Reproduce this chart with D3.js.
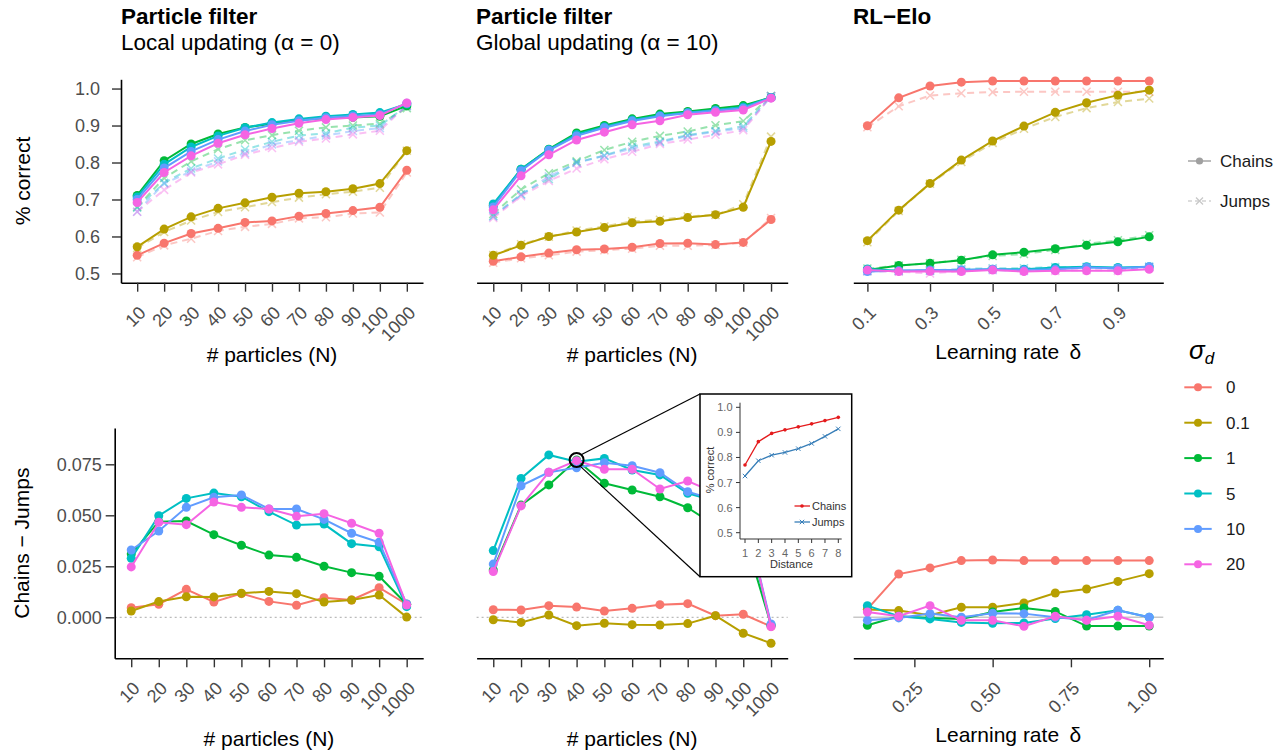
<!DOCTYPE html>
<html><head><meta charset="utf-8">
<script src="https://cdn.jsdelivr.net/npm/d3@7"></script>
<style>
body{margin:0;background:#fff;}
svg text{font-family:"Liberation Sans",Arial,Helvetica,sans-serif;}
</style></head><body>
<svg id="chart" width="1283" height="752"></svg>
<script>
// ---------- data ----------
const particles = ["10","20","30","40","50","60","70","80","90","100","1000"];
const learningRates = [0.1,0.2,0.3,0.4,0.5,0.6,0.7,0.8,0.9,1.0];
const sigmaLevels = ["0","0.1","1","5","10","20"];
const sigmaColors = ["#F8766D","#B79F00","#00BA38","#00BFC4","#619CFF","#F564E3"];
const correctTicks = [0.5,0.6,0.7,0.8,0.9,1.0];
const diffTicks = [0,0.025,0.05,0.075];
const rateTicksTop = [0.1,0.3,0.5,0.7,0.9];
const rateTicksBottom = [0.25,0.5,0.75,1.0];

const localChains = [
  [0.549,0.582,0.608,0.622,0.638,0.642,0.655,0.662,0.670,0.679,0.779],
  [0.572,0.620,0.653,0.676,0.691,0.706,0.717,0.721,0.729,0.743,0.832],
  [0.711,0.805,0.850,0.877,0.895,0.905,0.915,0.920,0.922,0.925,0.953],
  [0.707,0.795,0.842,0.872,0.894,0.908,0.918,0.925,0.930,0.935,0.958],
  [0.700,0.785,0.830,0.862,0.885,0.902,0.913,0.921,0.926,0.930,0.960],
  [0.692,0.773,0.818,0.852,0.875,0.892,0.906,0.916,0.922,0.927,0.961]];
const localJumps = [
  [0.544,0.576,0.594,0.615,0.626,0.634,0.649,0.652,0.662,0.665,0.773],
  [0.569,0.612,0.643,0.666,0.679,0.693,0.705,0.714,0.721,0.732,0.832],
  [0.680,0.758,0.803,0.836,0.860,0.874,0.886,0.895,0.900,0.905,0.947],
  [0.678,0.745,0.784,0.811,0.835,0.856,0.873,0.879,0.894,0.900,0.953],
  [0.667,0.743,0.776,0.803,0.825,0.849,0.860,0.873,0.885,0.893,0.953],
  [0.667,0.726,0.773,0.795,0.821,0.839,0.856,0.865,0.876,0.886,0.955]];
const globalChains = [
  [0.533,0.545,0.555,0.564,0.566,0.571,0.581,0.582,0.578,0.584,0.646],
  [0.549,0.576,0.600,0.612,0.624,0.637,0.641,0.651,0.659,0.679,0.857],
  [0.684,0.782,0.836,0.880,0.900,0.918,0.931,0.938,0.946,0.954,0.976],
  [0.688,0.782,0.835,0.876,0.897,0.915,0.927,0.935,0.942,0.950,0.976],
  [0.680,0.778,0.833,0.872,0.894,0.912,0.925,0.934,0.940,0.947,0.975],
  [0.672,0.764,0.821,0.861,0.882,0.902,0.913,0.929,0.936,0.942,0.974]];
const globalJumps = [
  [0.529,0.541,0.549,0.559,0.563,0.567,0.575,0.575,0.577,0.583,0.650],
  [0.550,0.579,0.599,0.616,0.627,0.641,0.645,0.654,0.658,0.687,0.870],
  [0.661,0.727,0.771,0.803,0.834,0.856,0.872,0.884,0.901,0.912,0.980],
  [0.655,0.714,0.755,0.800,0.819,0.843,0.857,0.874,0.885,0.898,0.980],
  [0.654,0.713,0.762,0.799,0.818,0.838,0.854,0.872,0.883,0.893,0.978],
  [0.650,0.709,0.750,0.784,0.809,0.829,0.850,0.862,0.875,0.887,0.979]];
const eloChains = [
  [0.883,0.956,0.987,0.997,1.000,1.000,1.000,1.000,1.000,1.000],
  [0.582,0.662,0.732,0.793,0.843,0.882,0.918,0.943,0.963,0.976],
  [0.505,0.517,0.523,0.531,0.545,0.552,0.561,0.570,0.579,0.592],
  [0.508,0.503,0.503,0.505,0.507,0.507,0.512,0.514,0.512,0.514],
  [0.501,0.503,0.505,0.505,0.507,0.505,0.507,0.512,0.510,0.514],
  [0.505,0.501,0.502,0.501,0.505,0.501,0.503,0.503,0.503,0.507]];
const eloJumps = [
  [0.879,0.934,0.962,0.968,0.971,0.972,0.972,0.972,0.972,0.972],
  [0.578,0.660,0.731,0.788,0.838,0.875,0.906,0.929,0.945,0.954],
  [0.509,0.517,0.523,0.532,0.542,0.547,0.558,0.574,0.583,0.596],
  [0.502,0.503,0.504,0.508,0.510,0.510,0.513,0.513,0.509,0.514],
  [0.503,0.503,0.503,0.505,0.505,0.503,0.507,0.513,0.507,0.514],
  [0.502,0.501,0.496,0.503,0.507,0.505,0.503,0.505,0.503,0.511]];
const localDiff = [
  [0.0047,0.0064,0.0137,0.0075,0.0116,0.0078,0.0059,0.0096,0.0085,0.0145,0.0064],
  [0.0031,0.0077,0.0101,0.0100,0.0118,0.0127,0.0116,0.0075,0.0085,0.0109,0.0001],
  [0.0310,0.0469,0.0472,0.0405,0.0353,0.0305,0.0294,0.0250,0.0219,0.0201,0.0064],
  [0.0289,0.0498,0.0583,0.0609,0.0591,0.0518,0.0452,0.0457,0.0361,0.0346,0.0052],
  [0.0330,0.0423,0.0539,0.0588,0.0600,0.0531,0.0531,0.0480,0.0412,0.0368,0.0065],
  [0.0247,0.0466,0.0454,0.0565,0.0539,0.0531,0.0495,0.0508,0.0461,0.0412,0.0060]];
const globalDiff = [
  [0.0037,0.0036,0.0057,0.0050,0.0031,0.0044,0.0062,0.0067,0.0008,0.0015,-0.0045],
  [-0.0012,-0.0025,0.0011,-0.0041,-0.0029,-0.0036,-0.0038,-0.0031,0.0008,-0.0078,-0.0127],
  [0.0232,0.0550,0.0649,0.0771,0.0657,0.0624,0.0591,0.0537,0.0450,0.0420,-0.0038],
  [0.0327,0.0681,0.0796,0.0763,0.0779,0.0722,0.0698,0.0608,0.0570,0.0520,-0.0040],
  [0.0261,0.0645,0.0711,0.0733,0.0758,0.0743,0.0709,0.0616,0.0575,0.0540,-0.0033],
  [0.0224,0.0546,0.0711,0.0768,0.0726,0.0726,0.0629,0.0668,0.0610,0.0550,-0.0046]];
const eloDiff = [
  [0.0040,0.0212,0.0242,0.0278,0.0281,0.0278,0.0278,0.0278,0.0278,0.0278],
  [0.0038,0.0033,0.0010,0.0049,0.0049,0.0070,0.0119,0.0139,0.0176,0.0214],
  [-0.0039,0.0005,-0.0003,-0.0008,0.0026,0.0046,0.0029,-0.0043,-0.0043,-0.0043],
  [0.0057,0.0005,-0.0008,-0.0025,-0.0029,-0.0028,-0.0006,0.0013,0.0034,0.0000],
  [-0.0015,-0.0003,0.0018,0.0000,0.0020,0.0018,0.0000,-0.0013,0.0034,0.0000],
  [0.0026,0.0005,0.0057,-0.0015,-0.0015,-0.0044,0.0005,-0.0015,0.0005,-0.0039]];

const insetDistance = [1,2,3,4,5,6,7,8];
const insetChains = [0.770,0.863,0.896,0.910,0.922,0.934,0.947,0.960];
const insetJumps = [0.726,0.787,0.809,0.820,0.835,0.856,0.884,0.914];
const insetYTicks = [0.5,0.6,0.7,0.8,0.9,1.0];

// ---------- drawing ----------
const svg = d3.select("#chart");
const TICKCOL = "#4d4d4d";

function styleAxis(a){
  a.select(".domain").attr("stroke","#000").attr("stroke-width",1.6);
  a.selectAll(".tick line").attr("stroke","#333").attr("stroke-width",1.4);
  a.selectAll(".tick text").attr("fill",TICKCOL).attr("font-size",18)
    .attr("font-family",'"Liberation Sans",Arial,sans-serif');
}
function xAxis(scale, y, tickValues, fmt){
  const ax = d3.axisBottom(scale).tickSize(9).tickSizeOuter(0);
  if (tickValues) ax.tickValues(tickValues);
  if (fmt) ax.tickFormat(fmt);
  const a = svg.append("g").attr("transform",`translate(0,${y})`).call(ax);
  styleAxis(a);
  a.selectAll(".tick text").attr("x",0).attr("y",0).attr("dy","0.72em")
    .attr("text-anchor","end").attr("transform","translate(0,22) rotate(-45)");
}
function yAxis(scale, x, tickValues, fmt, pad){
  const ax = d3.axisLeft(scale).tickSize(9).tickPadding(pad).tickSizeOuter(0)
    .tickValues(tickValues).tickFormat(fmt);
  const a = svg.append("g").attr("transform",`translate(${x},0)`).call(ax);
  styleAxis(a);
}
function drawChains(xs, ys, xv, vals, color, r){
  const g = svg.append("g");
  const line = d3.line().x((d,i)=>xs(xv[i])).y(d=>ys(d));
  g.append("path").attr("d",line(vals)).attr("fill","none").attr("stroke",color).attr("stroke-width",2);
  g.selectAll(null).data(vals).join("circle")
    .attr("cx",(d,i)=>xs(xv[i])).attr("cy",d=>ys(d)).attr("r",r).attr("fill",color);
}
function drawJumps(xs, ys, xv, vals, color){
  const g = svg.append("g").attr("opacity",0.4);
  const line = d3.line().x((d,i)=>xs(xv[i])).y(d=>ys(d));
  g.append("path").attr("d",line(vals)).attr("fill","none").attr("stroke",color)
    .attr("stroke-width",2).attr("stroke-dasharray","7,5");
  g.selectAll(null).data(vals).join("path")
    .attr("d","M-4,-4L4,4M-4,4L4,-4")
    .attr("transform",(d,i)=>`translate(${xs(xv[i])},${ys(d)})`)
    .attr("stroke",color).attr("stroke-width",1.5).attr("fill","none");
}
function text(x,y,str,opt={}){
  const t = svg.append("text").attr("x",x).attr("y",y).text(str)
    .attr("font-size",opt.size||21).attr("fill",opt.fill||"#000");
  if (opt.weight) t.attr("font-weight",opt.weight);
  if (opt.anchor) t.attr("text-anchor",opt.anchor);
  if (opt.rotate) t.attr("transform",`rotate(${opt.rotate},${x},${y})`);
  return t;
}

// geometry of panels
const topY0 = 282.7, topY1 = 79.3, botY0 = 658.3, botY1 = 428;
const colA = [121, 423], colAb = [114.7, 423.2], colB = [476.6, 787.7], colC = [853.3, 1163.3];

const yCorrect = d3.scaleLinear().domain([0.475,1.025]).range([topY0, topY1]);
const yElo = d3.scaleLinear().domain([0.472,1.0045]).range([topY0, topY1]);
const yDiff = d3.scaleLinear().domain([-0.0201,0.0928]).range([botY0, botY1]);

const xLocal = d3.scalePoint().domain(particles).range(colA).padding(0.6);
const xGlobal = d3.scalePoint().domain(particles).range(colB).padding(0.6);
const xEloTop = d3.scaleLinear().domain([0.055,1.045]).range(colC);
const xLocalB = d3.scalePoint().domain(particles).range(colAb).padding(0.6);
const xGlobalB = d3.scalePoint().domain(particles).range(colB).padding(0.6);
const xEloBot = d3.scaleLinear().domain([0.055,1.045]).range(colC);

// zero lines (bottom)
[[colAb, "2,3", "#aaa", 1],[colB, "2,3","#aaa",1],[colC, null, "#c8c8c8", 1.6]].forEach(([c,da,col,w])=>{
  const l = svg.append("line").attr("x1",c[0]).attr("x2",c[1]).attr("y1",yDiff(0)).attr("y2",yDiff(0))
    .attr("stroke",col).attr("stroke-width",w);
  if (da) l.attr("stroke-dasharray",da);
});

// axes
xAxis(xLocal, topY0);
yAxis(yCorrect, colA[0], correctTicks, d3.format(".1f"), 12);
xAxis(xGlobal, topY0);
xAxis(xEloTop, topY0, rateTicksTop, d3.format(".1f"));
xAxis(xLocalB, botY0);
yAxis(yDiff, colAb[0], diffTicks, d3.format(".3f"), 4);
xAxis(xGlobalB, botY0);
xAxis(xEloBot, botY0, rateTicksBottom, d3.format(".2f"));

// series top row
[[xLocal, yCorrect, particles, localJumps, localChains],
 [xGlobal, yCorrect, particles, globalJumps, globalChains],
 [xEloTop, yElo, learningRates, eloJumps, eloChains]].forEach(([xs,ys,xv,J,C])=>{
  J.forEach((v,i)=>drawJumps(xs,ys,xv,v,sigmaColors[i]));
  C.forEach((v,i)=>drawChains(xs,ys,xv,v,sigmaColors[i],4.5));
});
// bottom row
[[xLocalB, particles, localDiff],[xGlobalB, particles, globalDiff],[xEloBot, learningRates, eloDiff]]
 .forEach(([xs,xv,D])=> D.forEach((v,i)=>drawChains(xs,yDiff,xv,v,sigmaColors[i],4.5)));

// titles
text(121, 23.5, "Particle filter", {size:22.5, weight:"bold"});
text(121, 49.5, "Local updating (α = 0)", {size:22.5});
text(476, 23.5, "Particle filter", {size:22.5, weight:"bold"});
text(476, 49.5, "Global updating (α = 10)", {size:22.5});
text(853, 23.5, "RL\u2212Elo", {size:22.5, weight:"bold"});

// axis titles
text((colA[0]+colA[1])/2, 361.5, "# particles (N)", {anchor:"middle"});
text((colB[0]+colB[1])/2, 361.5, "# particles (N)", {anchor:"middle"});
text((colC[0]+colC[1])/2, 359, "Learning rate\u2002δ", {anchor:"middle"});
text((colAb[0]+colAb[1])/2, 746, "# particles (N)", {anchor:"middle"});
text((colB[0]+colB[1])/2, 746, "# particles (N)", {anchor:"middle"});
text((colC[0]+colC[1])/2, 742, "Learning rate\u2002δ", {anchor:"middle"});
text(30, (topY0+topY1)/2, "% correct", {anchor:"middle", rotate:-90});
text(29, (botY0+botY1)/2, "Chains \u2212 Jumps", {anchor:"middle", rotate:-90});

// legend: Chains / Jumps
{
  const lg = svg.append("g");
  lg.append("line").attr("x1",1188).attr("x2",1211).attr("y1",161).attr("y2",161).attr("stroke","#bbb").attr("stroke-width",2);
  lg.append("circle").attr("cx",1199.5).attr("cy",161).attr("r",3.6).attr("fill","#a0a0a0");
  lg.append("line").attr("x1",1188).attr("x2",1211).attr("y1",201).attr("y2",201).attr("stroke","#ddd").attr("stroke-width",2).attr("stroke-dasharray","4,3");
  lg.append("path").attr("d","M-3.5,-3.5L3.5,3.5M-3.5,3.5L3.5,-3.5").attr("transform","translate(1199.5,201)").attr("stroke","#c8c8c8").attr("stroke-width",1.3);
  text(1220, 167, "Chains", {size:17, fill:"#1a1a1a"});
  text(1220, 207, "Jumps", {size:17, fill:"#1a1a1a"});
}
// legend: sigma_d
{
  const t = svg.append("text").attr("x",1189).attr("y",359).attr("font-size",26)
    .attr("font-family","'Liberation Serif','DejaVu Serif',serif").attr("font-style","italic");
  t.append("tspan").text("σ");
  t.append("tspan").attr("dy",5).attr("font-size",17).text("d");
  const ly = d3.scalePoint().domain(sigmaLevels).range([387.3,564.3]);
  sigmaLevels.forEach((s,i)=>{
    svg.append("line").attr("x1",1184.3).attr("x2",1211.7).attr("y1",ly(s)).attr("y2",ly(s)).attr("stroke",sigmaColors[i]).attr("stroke-width",2);
    svg.append("circle").attr("cx",1198).attr("cy",ly(s)).attr("r",4).attr("fill",sigmaColors[i]);
    text(1226, ly(s)+6, s, {size:17, fill:"#1a1a1a"});
  });
}

// zoom circle + connectors
{
  const cx = xGlobalB("40"), cy = yDiff(globalDiff[2][3]), r = 7;
  const box = {x0:700, y0:394, x1:851.7, y1:576.7};
  const a1 = -50*Math.PI/180, a2 = 60*Math.PI/180;
  svg.append("line").attr("x1",cx+r*Math.cos(a1)).attr("y1",cy+r*Math.sin(a1)).attr("x2",box.x0).attr("y2",box.y0).attr("stroke","#000").attr("stroke-width",1.2);
  svg.append("line").attr("x1",cx+r*Math.cos(a2)).attr("y1",cy+r*Math.sin(a2)).attr("x2",box.x0).attr("y2",box.y1).attr("stroke","#000").attr("stroke-width",1.2);
  svg.append("circle").attr("cx",cx).attr("cy",cy).attr("r",r).attr("fill","none").attr("stroke","#000").attr("stroke-width",2);

  // inset
  const g = svg.append("g");
  g.append("rect").attr("x",box.x0).attr("y",box.y0).attr("width",box.x1-box.x0).attr("height",box.y1-box.y0)
    .attr("fill","#fff").attr("stroke","#000").attr("stroke-width",1.5);
  const ix = d3.scaleLinear().domain([1,8]).range([745,838.3]);
  const iy = d3.scaleLinear().domain([0.5,1.0]).range([532.7,407.3]);
  const axY = 539, axX = 740;
  g.append("path").attr("d",`M${axX},402.7V${axY}H841.7`).attr("fill","none").attr("stroke","#333").attr("stroke-width",1);
  insetYTicks.forEach(v=>{
    g.append("line").attr("x1",axX-4).attr("x2",axX).attr("y1",iy(v)).attr("y2",iy(v)).attr("stroke","#333");
    g.append("text").attr("x",732.5).attr("y",iy(v)+4).attr("text-anchor","end").attr("font-size",11).attr("fill","#666").text(d3.format(".1f")(v));
  });
  insetDistance.forEach(v=>{
    g.append("line").attr("x1",ix(v)).attr("x2",ix(v)).attr("y1",axY).attr("y2",axY+4).attr("stroke","#333");
    g.append("text").attr("x",ix(v)).attr("y",557).attr("text-anchor","middle").attr("font-size",11).attr("fill","#666").text(v);
  });
  g.append("text").attr("x",791.5).attr("y",568).attr("text-anchor","middle").attr("font-size",11).attr("fill","#333").text("Distance");
  g.append("text").attr("transform","translate(714,470) rotate(-90)").attr("text-anchor","middle").attr("font-size",11).attr("fill","#333").text("% correct");
  const il = d3.line().x((d,i)=>ix(insetDistance[i])).y(d=>iy(d));
  const red = "#E41A1C", blue = "#377EB8";
  g.append("path").attr("d",il(insetChains)).attr("fill","none").attr("stroke",red).attr("stroke-width",1.3);
  g.selectAll(null).data(insetChains).join("circle").attr("cx",(d,i)=>ix(insetDistance[i])).attr("cy",d=>iy(d)).attr("r",1.8).attr("fill",red);
  g.append("path").attr("d",il(insetJumps)).attr("fill","none").attr("stroke",blue).attr("stroke-width",1.3);
  g.selectAll(null).data(insetJumps).join("path").attr("d","M-2.2,-2.2L2.2,2.2M-2.2,2.2L2.2,-2.2")
    .attr("transform",(d,i)=>`translate(${ix(insetDistance[i])},${iy(d)})`).attr("stroke",blue).attr("stroke-width",1);
  g.append("line").attr("x1",794.5).attr("x2",810).attr("y1",506).attr("y2",506).attr("stroke",red).attr("stroke-width",1.3);
  g.append("circle").attr("cx",802).attr("cy",506).attr("r",1.8).attr("fill",red);
  g.append("text").attr("x",812).attr("y",510).attr("font-size",11).attr("fill","#333").text("Chains");
  g.append("line").attr("x1",794.5).attr("x2",810).attr("y1",522).attr("y2",522).attr("stroke",blue).attr("stroke-width",1.3);
  g.append("path").attr("d","M-2.2,-2.2L2.2,2.2M-2.2,2.2L2.2,-2.2").attr("transform","translate(802,522)").attr("stroke",blue).attr("stroke-width",1);
  g.append("text").attr("x",812).attr("y",526).attr("font-size",11).attr("fill","#333").text("Jumps");
}
</script>
</body></html>
